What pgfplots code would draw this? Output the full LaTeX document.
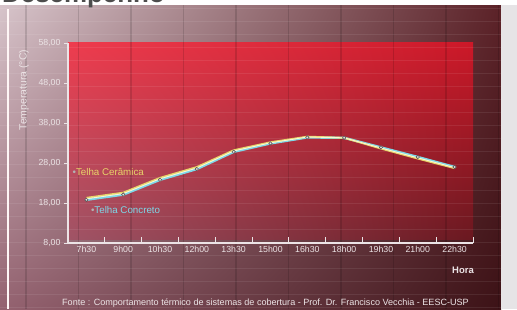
\documentclass[border=0pt]{standalone}
\usepackage{fontspec}
\setmainfont{Liberation Sans}
\usepackage{pgfplots}
\pgfplotsset{compat=1.18}
\usetikzlibrary{shadings}
\definecolor{bgUL}{HTML}{D8C6CC}
\definecolor{bgUR}{HTML}{5C2228}
\definecolor{bgLL}{HTML}{946270}
\definecolor{bgLR}{HTML}{3C1216}
\definecolor{rUL}{HTML}{EE3C4E}
\definecolor{rUR}{HTML}{CC1828}
\definecolor{rLL}{HTML}{A05466}
\definecolor{rLR}{HTML}{6A1820}
\definecolor{paper}{HTML}{E6E4E6}
\definecolor{tick}{HTML}{ECE4E6}
\definecolor{cer}{HTML}{E8D46A}
\definecolor{conc}{HTML}{7ED8E8}
\begin{document}
\begin{tikzpicture}[x=1bp,y=1bp]
\clip (0,0) rectangle (517,309);
\shade[upper left=bgUL, upper right=bgUR, lower left=bgLL, lower right=bgLR] (0,0) rectangle (501,309);
\fill[paper] (501,0) rectangle (517,309);
\fill[white] (0,304) rectangle (517,309);
\node[anchor=base west, inner sep=0, text=black!70, font=\fontsize{26}{28}\selectfont\bfseries] at (2,307) {Desempenho};
\shade[upper left=rUL, upper right=rUR, lower left=rLL, lower right=rLR] (68,70) rectangle (473,267);
\foreach \x in {26,78.5,...,500} \draw[black,opacity=0.13,line width=1.2bp] (\x,0) -- (\x,304);
\foreach \y in {2,15,...,304} \draw[white,opacity=0.08,line width=0.8bp] (0,\y) -- (501,\y);
\draw[white!85!pink, line width=1.5bp] (8,0) -- (8,300);
\node[rotate=90, text=tick, font=\fontsize{10.5}{12}\selectfont] at (24,219) {Temperatura (°C)};
\node[anchor=base west, text=tick, font=\fontsize{9.1}{10}\selectfont, inner sep=0] at (62,4) {Fonte : Comportamento térmico de sistemas de cobertura - Prof. Dr. Francisco Vecchia - EESC-USP};
\node[text=tick, font=\fontsize{9.5}{10}\selectfont\bfseries] at (463,39) {Hora};
\begin{axis}[
  at={(68bp,66bp)}, anchor=south west,
  scale only axis, width=405bp, height=200bp,
  xmin=-0.5, xmax=10.5, ymin=8, ymax=58,
  axis lines*=left,
  axis line style={tick, line width=1.3bp, -},
  xtick={0,...,10},
  xticklabels={7h30,9h00,10h30,12h00,13h30,15h00,16h30,18h00,19h30,21h00,22h30},
  major x tick style={draw=none},
  minor xtick={-0.5,0.5,...,10.5},
  minor x tick style={tick, line width=1bp},
  xtick align=inside,
  minor tick length=6bp,
  ytick={8,18,28,38,48,58},
  ytick align=outside,
  major tick length=4bp,
  y tick style={tick, line width=1bp},
  yticklabel style={/pgf/number format/.cd, fixed, fixed zerofill, precision=2, use comma},
  tick label style={text=tick, font=\fontsize{8.8}{10}\selectfont},
  /pgf/number format/assume math mode=true,
  clip=false,
]
\addplot[conc, line width=2.4bp, mark=*, mark size=1.7bp, mark options={fill=white!80!gray, draw=gray!70!black, line width=0.6bp}] coordinates {
(0,18.8) (1,20.1) (2,23.8) (3,26.5) (4,30.8) (5,32.9) (6,34.4) (7,34.3) (8,31.9) (9,29.5) (10,27.0)};
\addplot[cer, line width=1.8bp] coordinates {
(0,19.3) (1,20.6) (2,24.3) (3,27.0) (4,31.2) (5,33.2) (6,34.6) (7,34.3) (8,31.6) (9,29.1) (10,26.7)};
\addplot[white!90!yellow, line width=0.9bp, opacity=0.85] coordinates {
(0,19.05) (1,20.35) (2,24.05) (3,26.75) (4,31.0) (5,33.05) (6,34.5) (7,34.3) (8,31.75) (9,29.3) (10,26.85)};
\node[anchor=west, text=cer, font=\fontsize{9.8}{11}\selectfont, inner sep=0] at (axis cs:-0.38,25.75) {\textcolor{gray!60}{\textbullet}Telha Cerâmica};
\node[anchor=west, text=conc, font=\fontsize{9.8}{11}\selectfont, inner sep=0] at (axis cs:0.12,16.25) {\textcolor{gray!60}{\textbullet}Telha Concreto};
\end{axis}
\end{tikzpicture}
\end{document}
